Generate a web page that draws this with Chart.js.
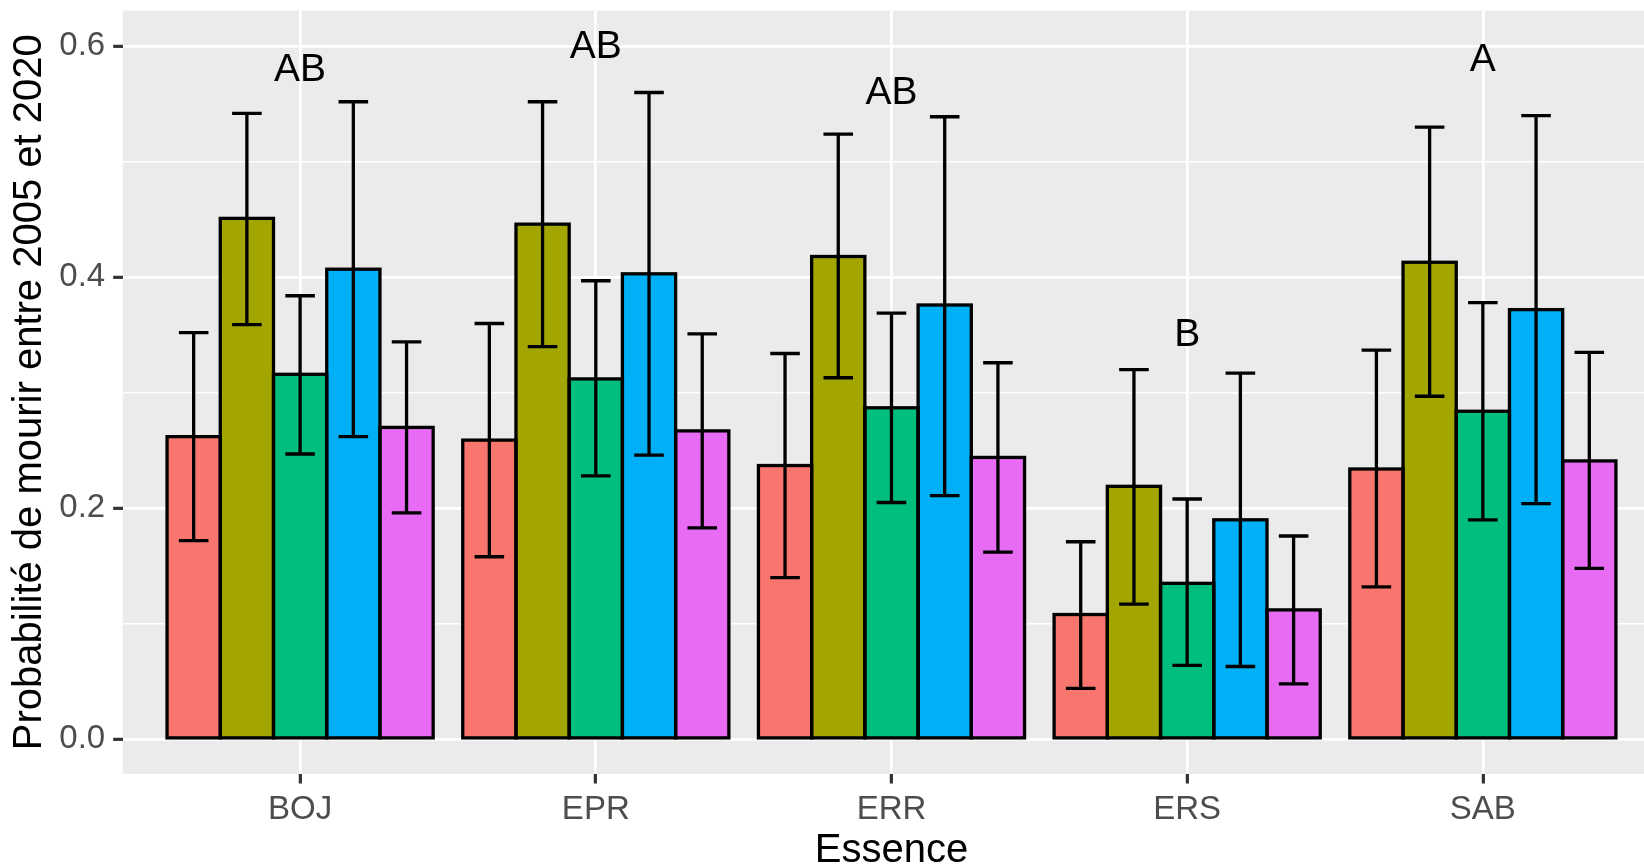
<!DOCTYPE html>
<html>
<head>
<meta charset="utf-8">
<script src="https://cdn.jsdelivr.net/npm/chart.js@4.4.1/dist/chart.umd.min.js"></script>
<style>
  html, body { margin: 0; padding: 0; background: #fff; }
</style>
</head>
<body>
<canvas id="graph" width="1644" height="865"></canvas>
<script>
// essences and probability of dying 2005-2020, with 95% interval bounds
const essences = ['BOJ', 'EPR', 'ERR', 'ERS', 'SAB'];

const groupe1 = [0.262, 0.259, 0.237, 0.108, 0.234];
const groupe1Bas = [0.172, 0.158, 0.140, 0.044, 0.132];
const groupe1Haut = [0.352, 0.360, 0.334, 0.171, 0.337];

const groupe2 = [0.451, 0.446, 0.418, 0.219, 0.413];
const groupe2Bas = [0.359, 0.340, 0.313, 0.117, 0.297];
const groupe2Haut = [0.542, 0.552, 0.524, 0.320, 0.530];

const groupe3 = [0.316, 0.312, 0.287, 0.135, 0.284];
const groupe3Bas = [0.247, 0.228, 0.205, 0.064, 0.190];
const groupe3Haut = [0.384, 0.397, 0.369, 0.208, 0.378];

const groupe4 = [0.407, 0.403, 0.376, 0.190, 0.372];
const groupe4Bas = [0.262, 0.246, 0.211, 0.063, 0.204];
const groupe4Haut = [0.552, 0.560, 0.539, 0.317, 0.540];

const groupe5 = [0.270, 0.267, 0.244, 0.112, 0.241];
const groupe5Bas = [0.196, 0.183, 0.162, 0.048, 0.148];
const groupe5Haut = [0.344, 0.351, 0.326, 0.176, 0.335];

// letters from the post-hoc comparison, and where they sit
const lettres = ['AB', 'AB', 'AB', 'B', 'A'];
const lettresY = [0.579, 0.599, 0.559, 0.350, 0.588];

const yTicks = [0, 0.1, 0.2, 0.3, 0.4, 0.5, 0.6];
const yTickLabels = ['0.0', '', '0.2', '', '0.4', '', '0.6'];

const titreX = 'Essence';
const titreY = 'Probabilité de mourir entre 2005 et 2020';

const couleurs = ['#F8766D', '#A3A500', '#00BF7D', '#00B0F6', '#E76BF3'];
const series = [
  { label: 'Groupe 1', moy: groupe1, bas: groupe1Bas, haut: groupe1Haut },
  { label: 'Groupe 2', moy: groupe2, bas: groupe2Bas, haut: groupe2Haut },
  { label: 'Groupe 3', moy: groupe3, bas: groupe3Bas, haut: groupe3Haut },
  { label: 'Groupe 4', moy: groupe4, bas: groupe4Bas, haut: groupe4Haut },
  { label: 'Groupe 5', moy: groupe5, bas: groupe5Bas, haut: groupe5Haut }
];

const police = "'Liberation Sans', Arial, sans-serif";
const MAJ = 2.7, MIN = 1.4;

// grey panel behind the grid
const panneau = {
  id: 'panneau',
  beforeDraw(chart) {
    const { ctx, chartArea: a } = chart;
    ctx.save();
    ctx.fillStyle = '#fff';
    ctx.fillRect(0, 0, chart.width, chart.height);
    ctx.fillStyle = '#EBEBEB';
    ctx.fillRect(a.left, a.top, a.right - a.left, a.bottom - a.top);
    ctx.restore();
  }
};

// black outlines, error bars, letters and the x title
const barresErreur = {
  id: 'barresErreur',
  afterDatasetsDraw(chart) {
    const ctx = chart.ctx;
    const x = chart.scales.x, y = chart.scales.y;
    const cap = x.getPixelForValue(1.05) - x.getPixelForValue(0.95);
    ctx.save();
    ctx.strokeStyle = '#000';
    ctx.lineWidth = 3.3;
    ctx.lineJoin = 'miter';
    chart.data.datasets.forEach((ds, i) => {
      chart.getDatasetMeta(i).data.forEach(bar => {
        const p = bar.getProps(['x', 'y', 'base', 'width'], true);
        ctx.strokeRect(p.x - p.width / 2, p.y, p.width, p.base - p.y);
      });
    });
    ctx.lineCap = 'butt';
    series.forEach((s, i) => {
      chart.getDatasetMeta(i).data.forEach((bar, j) => {
        const cx = bar.x;
        const yh = y.getPixelForValue(s.haut[j]);
        const yb = y.getPixelForValue(s.bas[j]);
        ctx.beginPath();
        ctx.moveTo(cx, yh); ctx.lineTo(cx, yb);
        ctx.moveTo(cx - cap / 2, yh); ctx.lineTo(cx + cap / 2, yh);
        ctx.moveTo(cx - cap / 2, yb); ctx.lineTo(cx + cap / 2, yb);
        ctx.stroke();
      });
    });
    ctx.fillStyle = '#000';
    ctx.font = '39px ' + police;
    ctx.textAlign = 'center';
    ctx.textBaseline = 'middle';
    lettres.forEach((t, j) => {
      ctx.fillText(t, x.getPixelForValue(j + 1), y.getPixelForValue(lettresY[j]));
    });
    // x title centred on the full panel, which runs past the canvas edge
    ctx.font = '40px ' + police;
    ctx.fillText(titreX, x.getPixelForValue(3), x.bottom - 14);
    ctx.restore();
  }
};

new Chart(document.getElementById('graph'), {
  type: 'bar',
  data: {
    datasets: series.map((s, i) => ({
      label: s.label,
      data: s.moy.map((v, j) => ({ x: j + 1, y: v })),
      backgroundColor: couleurs[i],
      borderWidth: 0,
      categoryPercentage: 0.9,
      barPercentage: 1
    }))
  },
  options: {
    responsive: false,
    devicePixelRatio: 1,
    animation: false,
    layout: { padding: { top: 10.5, right: 0, left: 0, bottom: 0 } },
    plugins: { legend: { display: false }, tooltip: { enabled: false } },
    scales: {
      x: {
        type: 'linear',
        offset: false,
        min: 0.4,
        max: 5.545,
        afterBuildTicks(scale) {
          scale.ticks = essences.map((e, j) => ({ value: j + 1 }));
        },
        afterFit(scale) {
          scale.height = 91;
          scale.paddingLeft = 0;
          scale.paddingRight = 0;
        },
        border: { display: false },
        grid: { offset: false, color: '#fff', lineWidth: MAJ, tickColor: '#333', tickWidth: 3.2, tickLength: 9.5 },
        ticks: {
          autoSkip: false,
          maxRotation: 0,
          padding: 7,
          color: '#4D4D4D',
          font: { family: police, size: 33 },
          callback: (v, j) => essences[j]
        },
        title: { display: false }
      },
      y: {
        min: -0.0301,
        max: 0.631,
        afterBuildTicks(scale) {
          scale.ticks = yTicks.map(v => ({ value: v }));
        },
        afterFit(scale) {
          scale.width = 122.7;
          scale.paddingTop = 0;
          scale.paddingBottom = 0;
        },
        border: { display: false },
        grid: {
          color: '#fff',
          lineWidth: c => (c.index % 2 === 0 ? MAJ : MIN),
          tickColor: c => (c.index % 2 === 0 ? '#333' : 'rgba(0,0,0,0)'),
          tickWidth: 3.2,
          tickLength: 9.5
        },
        ticks: {
          autoSkip: false,
          padding: 8,
          color: '#4D4D4D',
          font: { family: police, size: 33 },
          callback: (v, j) => yTickLabels[j]
        },
        title: {
          display: true,
          text: titreY,
          color: '#000',
          font: { family: police, size: 40, lineHeight: 1 },
          padding: { top: 10, bottom: 0 }
        }
      }
    }
  },
  plugins: [panneau, barresErreur]
});
</script>
</body>
</html>
